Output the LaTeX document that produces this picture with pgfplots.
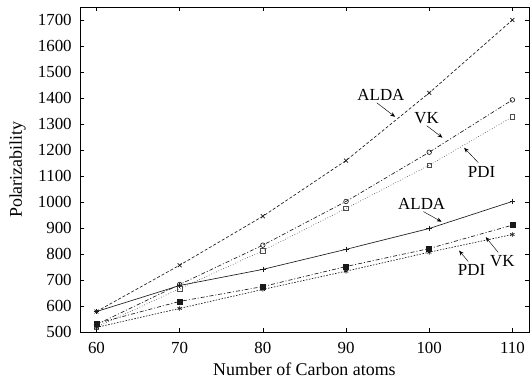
\documentclass[border=0pt]{standalone}
\usepackage{pgfplots}
\pgfplotsset{compat=1.18}
\usepackage{fontspec}
\setmainfont{Liberation Serif}
\usetikzlibrary{arrows.meta}

\begin{document}
\begin{tikzpicture}
\begin{axis}[
  scale only axis,
  width=450bp, height=326bp,
  xmin=58, xmax=112, ymin=500, ymax=1750,
  xtick={60,70,80,90,100,110},
  ytick={500,600,...,1700},
  tick align=inside,
  major tick length=4pt,
  tick style={line width=0.5pt, black},
  axis line style={line width=0.7pt},
  /pgf/number format/assume math mode=true,
  /pgf/number format/1000 sep={},
  tick label style={font=\fontsize{17}{19}\selectfont, inner sep=0pt},
  yticklabel style={xshift=-8bp},
  xticklabel style={yshift=-10bp},
  label style={font=\fontsize{18}{20}\selectfont, inner sep=0pt},
  xlabel={Number of Carbon atoms},
  ylabel={Polarizability},
  xlabel style={at={(axis description cs:0.5,-0.132)}, anchor=base},
  ylabel style={at={(axis description cs:-0.129,0.5)}, anchor=base},
  every axis plot/.append style={line width=0.65pt, black!90},
  mark size=2.8pt,
]
% upper group
\addplot[dash pattern=on 3pt off 2pt, mark=x, mark options={solid}]
  coordinates {(60,580) (70,758) (80,946) (90,1160) (100,1420) (110,1700)};
\addplot[dash pattern=on 4pt off 2pt on 1pt off 2pt, mark=o, mark size=2.3pt, mark options={solid}]
  coordinates {(60,530) (70,684) (80,835) (90,1003) (100,1192) (110,1393)};
\addplot[dotted, black!70, mark=square, mark size=2.3pt, mark options={solid}]
  coordinates {(60,520) (70,668) (80,814) (90,976) (100,1142) (110,1328)};
% lower group
\addplot[solid, mark=+]
  coordinates {(60,580) (70,680) (80,742) (90,819) (100,899) (110,1003)};
\addplot[dash pattern=on 4pt off 2pt on 1pt off 2pt, mark=square*, mark size=2.5pt, mark options={solid}]
  coordinates {(60,534) (70,619) (80,676) (90,753) (100,822) (110,912)};
\addplot[dash pattern=on 1.5pt off 1.5pt, mark=asterisk, mark size=2.5pt, mark options={solid}]
  coordinates {(60,519) (70,592) (80,665) (90,735) (100,808) (110,876)};

% labels with arrows
\begin{scope}[font=\fontsize{17}{19}\selectfont, every node/.style={inner sep=1pt}]
  \node at (axis cs:94.2,1412) {ALDA};
  \draw[-{Stealth[length=5pt,width=4pt]}, line width=0.45pt] (axis cs:93.7,1382) -- (axis cs:95.9,1328);
  \node at (axis cs:99.7,1322) {VK};
  \draw[-{Stealth[length=5pt,width=4pt]}, line width=0.45pt] (axis cs:99.7,1294) -- (axis cs:101.6,1248);
  \node at (axis cs:106.3,1117) {PDI};
  \draw[-{Stealth[length=5pt,width=4pt]}, line width=0.45pt] (axis cs:105.9,1152) -- (axis cs:104.2,1209);
  \node at (axis cs:99.1,995) {ALDA};
  \draw[-{Stealth[length=5pt,width=4pt]}, line width=0.45pt] (axis cs:99.3,964) -- (axis cs:101.5,925);
  \node at (axis cs:105.1,741) {PDI};
  \draw[-{Stealth[length=5pt,width=4pt]}, line width=0.45pt] (axis cs:104.7,772) -- (axis cs:103.6,814);
  \node at (axis cs:108.8,772) {VK};
  \draw[-{Stealth[length=5pt,width=4pt]}, line width=0.45pt] (axis cs:108.3,807) -- (axis cs:106.8,866);
\end{scope}
\end{axis}
% fixed page margins around the frame
\pgfresetboundingbox
\path ([shift={(-80bp,-46bp)}]current axis.south west) rectangle ([shift={(1bp,7bp)}]current axis.north east);
\end{tikzpicture}
\end{document}
